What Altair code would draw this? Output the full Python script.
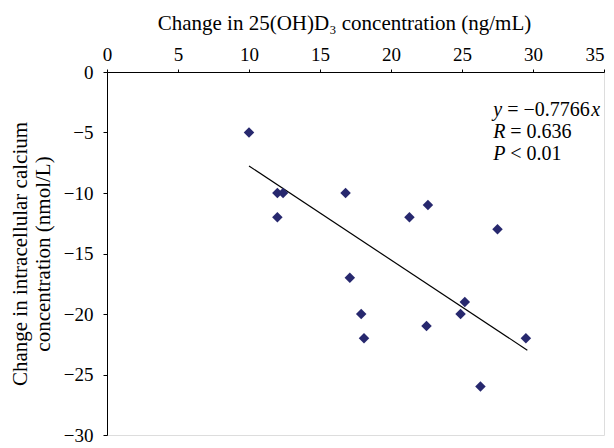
import altair as alt
import pandas as pd

# data
x_vals = [10, 12, 12.4, 12, 16.8, 21.3, 22.6, 27.5, 17.1, 17.9, 18.1, 22.5, 25.2, 24.9, 29.5, 26.3]
y_vals = [-5, -10, -10, -12, -10, -12, -11, -13, -17, -20, -22, -21, -19, -20, -22, -26]
fit_x = [10, 29.6]
fit_y = [-7.77, -22.99]

ann_x = 27.2
ann_rows_y = [-3.14, -4.96, -6.78]
italic_first = ["y", "R", "P"]
rest_text = ["= −0.7766", "= 0.636", "< 0.01"]

pts = pd.DataFrame({"x": x_vals, "y": y_vals})
fit = pd.DataFrame({"x": fit_x, "y": fit_y})

FONT = "Liberation Serif"
LFS = 19   # tick label size
TFS = 21   # title size
AFS = 20   # annotation size

xs = alt.Scale(domain=[0, 35], nice=False, zero=False)
ys = alt.Scale(domain=[-30, 0], nice=False, zero=False)

x_axis = alt.Axis(orient="top", values=list(range(0, 36, 5)), grid=False,
                  title="Change in 25(OH)D₃ concentration (ng/mL)",
                  titleFont=FONT, titleFontSize=TFS, titleFontWeight="normal", titleColor="black",
                  titlePadding=12, titleX=237, titleAlign="center",
                  labelFont=FONT, labelFontSize=LFS, labelColor="black", labelPadding=5,
                  labelAlign={"condition": {"test": "datum.value === 35", "value": "right"},
                              "value": "center"},
                  domainColor="black", tickColor="black", tickSize=3, labelFlush=False)
y_axis = alt.Axis(values=list(range(-30, 1, 5)), grid=False,
                  title=["Change in intracellular calcium", "concentration (nmol/L)"],
                  titleFont=FONT, titleFontSize=TFS, titleFontWeight="normal", titleColor="black",
                  titlePadding=10, titleLineHeight=23,
                  labelFont=FONT, labelFontSize=LFS, labelColor="black", labelPadding=10,
                  domainColor="black", tickColor="black", tickSize=4, labelFlush=False)

points = alt.Chart(pts).mark_point(shape="diamond", filled=True, size=110,
                                   color="#27286e", opacity=1).encode(
    x=alt.X("x:Q", scale=xs, axis=x_axis),
    y=alt.Y("y:Q", scale=ys, axis=y_axis),
)

line = alt.Chart(fit).mark_line(color="black", strokeWidth=1.2).encode(
    x=alt.X("x:Q", scale=xs),
    y=alt.Y("y:Q", scale=ys),
)

ital = pd.DataFrame({"x": [ann_x] * 3, "y": ann_rows_y, "t": italic_first})
ann_layers = [
    alt.Chart(ital).mark_text(font=FONT, fontSize=AFS, fontStyle="italic", align="left",
                              baseline="middle", color="black").encode(
        x=alt.X("x:Q", scale=xs), y=alt.Y("y:Q", scale=ys), text="t:N")
]
# offsets: italic letter width + a space
dxs = [14, 17, 17]
for i in range(3):
    d = pd.DataFrame({"x": [ann_x], "y": [ann_rows_y[i]], "t": [rest_text[i]]})
    ann_layers.append(
        alt.Chart(d).mark_text(font=FONT, fontSize=AFS, align="left", baseline="middle",
                               color="black", dx=dxs[i]).encode(
            x=alt.X("x:Q", scale=xs), y=alt.Y("y:Q", scale=ys), text="t:N"))
dx_end = pd.DataFrame({"x": [ann_x], "y": [ann_rows_y[0]], "t": ["x"]})
ann_layers.append(
    alt.Chart(dx_end).mark_text(font=FONT, fontSize=AFS, fontStyle="italic", align="left",
                                baseline="middle", color="black", dx=98).encode(
        x=alt.X("x:Q", scale=xs), y=alt.Y("y:Q", scale=ys), text="t:N"))

chart = alt.layer(line, points, *ann_layers).properties(
    width=497, height=363,
    autosize=alt.AutoSizeParams(type="none"),
    padding={"left": 99, "top": 64, "right": 2, "bottom": 10},
).configure_view(stroke=None).configure(background="white")

chart.save("out.html", embed_options={"renderer": "svg", "actions": False})
